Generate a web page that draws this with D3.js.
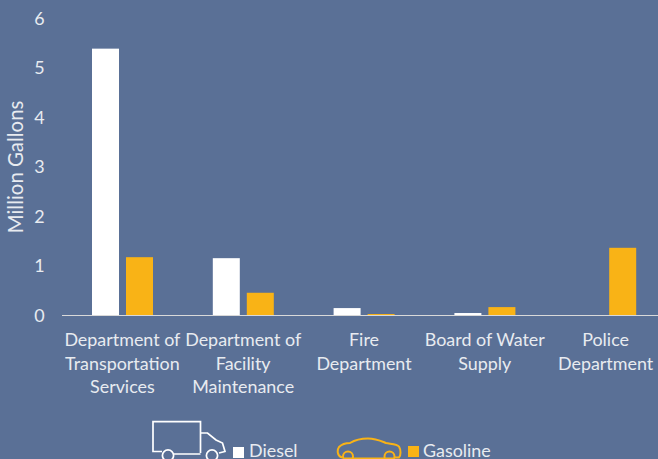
<!DOCTYPE html>
<html><head><meta charset="utf-8">
<script src="https://cdn.jsdelivr.net/npm/d3@7/dist/d3.min.js"></script>
<style>html,body{margin:0;padding:0;background:#5a7096;overflow:hidden}svg{display:block}text{font-family:Lato,"Open Sans",sans-serif}</style>
</head><body><svg id="c" width="658" height="459"></svg>
<script>
const categories=[["Department of","Transportation","Services"],["Department of","Facility","Maintenance"],["Fire","Department"],["Board of Water","Supply"],["Police","Department"]];
const diesel=[5.4,1.16,0.15,0.05,0];
const gasoline=[1.18,0.46,0.03,0.17,1.37];
const yTicks=[0,1,2,3,4,5,6];
const seriesNames=["Diesel","Gasoline"];
const colors={Diesel:"#ffffff",Gasoline:"#f9b316"};
const textColor="#e8ebf0";
const svg=d3.select("#c");
const W=658,H=459,plotLeft=62,base=315.5,plotTop=19;
const y=d3.scaleLinear().domain([0,6]).range([base,plotTop]);
const x0=d3.scaleBand().domain(d3.range(categories.length)).range([plotLeft,plotLeft+604]);
const x1=d3.scaleBand().domain(seriesNames).range([30,91]).paddingInner(0.206).paddingOuter(0);
const groups=[[seriesNames[0],diesel],[seriesNames[1],gasoline]];
groups.forEach(([n,v])=>{
 svg.append("g").selectAll("rect").data(v).join("rect")
  .attr("x",(d,i)=>x0(i)+x1(n)).attr("width",x1.bandwidth())
  .attr("y",d=>y(d)).attr("height",d=>base-y(d)).attr("fill",colors[n]);
});
svg.append("line").attr("x1",plotLeft).attr("x2",W).attr("y1",base).attr("y2",base).attr("stroke","#d9d9d9").attr("stroke-width",1.2);
const fs=17.9;
svg.append("g").selectAll("text").data(yTicks).join("text")
 .attr("x",39.5).attr("y",d=>y(d)+6).attr("text-anchor","middle").attr("font-size",fs).attr("fill",textColor).text(d=>d);
svg.append("text").attr("transform","translate(22.500,167) rotate(-90)").attr("text-anchor","middle")
 .attr("font-size",20.4).attr("fill",textColor).text("Million Gallons");
categories.forEach((lines,i)=>{
 const g=svg.append("text").attr("text-anchor","middle").attr("font-size",fs).attr("fill",textColor);
 lines.forEach((l,j)=>g.append("tspan").attr("x",x0(i)+x0.bandwidth()/2).attr("y",346+j*23.5).text(l));
});
// legend
const truck=svg.append("g").attr("fill","none").attr("stroke","#fff").attr("stroke-width",1.7);
truck.append("path").attr("d","M200.5 453V421.7H153V451.5H162M174 454H200.5M200.5 433H207.5L216 440L222.5 443L225 451.5L219 453");
truck.append("circle").attr("cx",168).attr("cy",455.500).attr("r",5.6);
truck.append("circle").attr("cx",212).attr("cy",455.500).attr("r",5.6);
const car=svg.append("g").attr("fill","none").attr("stroke",colors.Gasoline).attr("stroke-width",2);
car.append("path").attr("d","M342 457.500C337 456 337 450 339 447C342 444 346 443 350 443C355 440 362 438.500 368 438.500C376 438.500 381 441 386 443C391 444 397 444 399 446.500C401 450 401 455 399 457.500H394M343 458.500H395");
car.append("circle").attr("cx",348).attr("cy",456.500).attr("r",5);
car.append("circle").attr("cx",389.500).attr("cy",456.500).attr("r",5);
svg.append("rect").attr("x",233).attr("y",447).attr("width",11).attr("height",11).attr("fill",colors.Diesel);
svg.append("rect").attr("x",408).attr("y",446).attr("width",11).attr("height",11).attr("fill",colors.Gasoline);
svg.append("text").attr("x",249).attr("y",456.500).attr("font-size",fs).attr("fill",textColor).text(seriesNames[0]);
svg.append("text").attr("x",423).attr("y",456.500).attr("font-size",fs).attr("fill",textColor).text(seriesNames[1]);
</script></body></html>
